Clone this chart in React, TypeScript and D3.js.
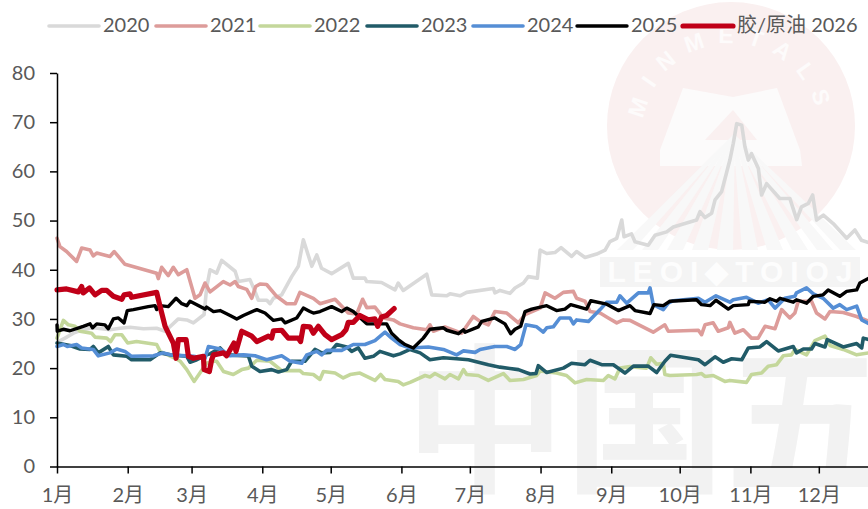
import React, { useEffect, useRef } from "react";
import * as d3 from "d3";

type P = [number, number];

const monthStarts = [0, 31, 59, 90, 120, 151, 181, 212, 243, 273, 304, 334];
const monthLabels = ["1月", "2月", "3月", "4月", "5月", "6月", "7月", "8月", "9月", "10月", "11月", "12月"];
const yTicks = [0, 10, 20, 30, 40, 50, 60, 70, 80];

const s2020: P[] = [[0.6,25.4],[3.5,26.1],[7.2,27.1],[11,27.8],[16,28.2],[23.2,27.8],[27.6,28.1],[32,28.3],[37.9,28],[43.7,28.1],[47.4,27.5],[53.2,30],[56.9,29.8],[59.8,29.2],[64.5,30.9],[65.6,36.3],[67.1,40],[70,39.3],[72.2,41.9],[78.1,39.7],[79.5,37.6],[84.6,38],[86.8,35.6],[88.3,33.8],[92,33.8],[93.4,33.1],[94.9,34.2],[98.5,34.9],[102.9,38.6],[105.8,40.7],[108,46.1],[111.7,40.7],[113.9,43],[116,40.3],[120.4,39.2],[127.7,41.3],[129.9,38.3],[135,38.3],[135.8,37.6],[142.3,37.4],[148.2,35.9],[149.6,37.3],[151.8,35.8],[162.1,39.1],[164.3,34.9],[170.9,34.7],[172.3,35.1],[176.7,34.7],[179.6,35.4],[191.3,36.2],[192,35.3],[194.2,35.8],[198.6,35.2],[200.8,36.3],[204.5,37.3],[206.6,38.6],[210.6,38.3],[211.8,44],[214.7,43.3],[218.3,43.5],[221,44.5],[225.6,42.7],[227.8,43.7],[231.5,42.5],[236.6,43.2],[240.3,44],[242.4,45.7],[245.4,46.4],[247.6,50.1],[248.6,46.7],[251.9,47.3],[253.4,45.7],[259.2,45],[262.2,47],[267.3,47.7],[270.2,48.7],[280.4,50.1],[281.9,51.8],[284.1,50.6],[287,51.5],[288.5,54.2],[291.4,55.9],[295,62.3],[296.5,65.7],[298,69.7],[300.2,69.4],[301.6,65],[303.1,62.3],[304.5,63.6],[307.5,60.6],[308.9,55.2],[311.1,57.5],[316.9,54.5],[321.3,54.5],[324.3,50.2],[326.4,52.8],[329.4,53.5],[331.3,55.2],[333,50.1],[336,51.1],[340.3,49.4],[346.2,46.4],[349.8,48.1],[352.7,46],[356,45.5]];

const s2021: P[] = [[0,46.4],[1.3,44.7],[4.2,43.7],[8.6,41.7],[10.8,44.4],[14.5,44],[15.9,42.8],[17.4,43.4],[23.2,42.7],[25.1,43.7],[29.8,41.1],[43.7,39.3],[44.4,38.2],[45.9,40.5],[48.8,38.8],[51,40.5],[53.2,39],[56.9,40],[60.5,34.2],[62.7,34.9],[64.9,37.3],[67.1,35.5],[72.9,37.6],[75.9,36.9],[78.1,37.6],[79.5,36.6],[83.2,36],[85.4,34.2],[87.1,36.6],[89,37.1],[91.9,37],[96.3,34.6],[100.7,33.1],[104.4,33.1],[106.5,35.4],[112.4,34.2],[115.3,33.1],[121.9,34],[127.7,31.2],[131.4,31],[134,34],[135.8,32.3],[139.4,32.4],[143.1,30.2],[147.5,29.8],[150.4,29],[156.2,28.2],[162.1,27.8],[163.5,28.8],[165,27.5],[170.1,28.4],[177.4,27.1],[182.5,30.5],[185.5,29.5],[189.1,28.8],[192,31.5],[197.2,31.2],[202.3,29.2],[205.2,30.9],[211.8,32.2],[214,35.3],[218.3,34.2],[222,35.4],[226.4,35.6],[227.8,34.2],[231.5,33.6],[233.7,31.5],[238.1,31.2],[241.7,30.2],[245.4,29.2],[248.3,29.8],[251.2,29.7],[261.4,27.3],[266.5,28.8],[268,27.5],[281.2,27.7],[282.6,26.8],[284.1,28.8],[287.7,29.2],[289.9,27.5],[294.3,28.2],[295,29.3],[297.2,27.1],[300.9,27.8],[304.5,26.1],[307.4,26.1],[310.4,28.5],[314.8,28],[317.7,31.9],[321.3,30.2],[323.5,31.2],[325,33.6],[330.8,33.6],[333,31.2],[336.7,30],[338.9,31.5],[344.7,31.3],[350.6,30.5],[356,29.5]];

const s2022: P[] = [[0,26.1],[2.8,29.7],[5,28.8],[7.9,28.5],[10.1,27.5],[15.2,27.1],[16.7,26.3],[21.8,26.1],[23.5,25.4],[25.4,26.8],[28.4,26.8],[31,25.1],[34.9,25.4],[43.7,24.8],[45.2,23.4],[51.8,22],[54,21.4],[56.9,19.7],[60.1,17.3],[65.6,21],[68.6,21.4],[70,21.4],[73,19.3],[77.3,18.7],[81,19.7],[83.9,20],[87.6,21.6],[93.4,21.4],[98.5,19.5],[106.5,19.5],[108,18.9],[112.4,18.7],[115.3,17.7],[116.8,19.3],[121.9,19],[125.5,18],[128.5,18.7],[132.8,19],[139.4,17.5],[141.9,18.7],[143.8,17.7],[149.6,17.3],[151.8,16.6],[154.8,17.1],[161.4,18.5],[163.5,18.2],[165.7,18.9],[170.1,17.8],[172.3,18.7],[176,17.8],[178.2,19.7],[179.6,18.7],[184.7,18.5],[189.1,17.5],[195.7,18.9],[198.6,17.5],[204.5,17.7],[210.3,18.5],[211.8,19.4],[219,19],[223.4,18.5],[227.1,17],[232.2,17.7],[239.5,17.5],[241.7,18.5],[244.6,17.8],[246.8,20],[251.2,20.3],[258.5,20],[260.3,22.1],[262.9,20.8],[265.8,21],[266.5,18.7],[268.7,18.5],[280.4,18.7],[282.6,18.9],[284.1,18.3],[287.7,18.5],[292.8,17.3],[295,17.5],[302.3,17.1],[304.5,18.7],[308.9,19],[311.8,20.4],[315.5,20.7],[318.4,22.5],[322,22.7],[323.5,23.8],[328.6,22.7],[332.3,25.6],[336.7,26.5],[338.9,24.6],[344.7,23.8],[350.6,22.7],[356,23.1]];

const s2023: P[] = [[0,25.1],[5.7,24.6],[10.1,23.9],[14.5,23.8],[15.9,24.4],[18.1,23.1],[22.5,24.4],[24.7,22.7],[30.6,22.4],[32.7,21.7],[40.8,21.7],[45.2,23.1],[49.6,22.7],[56.9,22.4],[58.3,21.2],[61.3,21.7],[65.6,22.7],[67.1,22.9],[71.5,24.1],[74.4,22.7],[83.9,22.5],[85.4,20.4],[89,19.3],[94.1,19.7],[97.1,19.2],[100.7,19.7],[102.9,21.4],[108.7,21.4],[113.1,23.8],[116,23.1],[119.7,23.2],[122.6,24.8],[127,24.3],[129.2,23.4],[132.1,24.1],[135,22],[138.7,22.4],[141.6,23.4],[147.5,22.5],[150.4,22.9],[154.8,23.8],[159.2,23.1],[163.5,21.7],[169.4,22.1],[175.2,21.9],[180.4,21.7],[189.1,20.7],[194.2,20.2],[202.3,19.7],[207.4,18.8],[210,18.9],[211,20.5],[214.7,19.1],[222,20],[225.6,21],[231.5,20.7],[233.7,21.6],[238.8,20.7],[243.9,20.7],[249,19],[252.7,20.4],[259.2,20.4],[262.9,19.1],[266.5,21.4],[269,22.6],[281.2,21.7],[284.1,20.7],[288.5,22.3],[292.1,21.2],[295.8,21.9],[300.2,21.7],[303.1,24.1],[308.2,24.3],[311.1,25.4],[316.2,23.5],[322.8,24.4],[324.2,23.1],[327.2,23.9],[330.8,23.9],[332.3,25],[336.7,24.3],[337.7,25.8],[344.7,24.3],[350.6,25],[352.8,24.1],[353.5,26.1],[356,25.8]];

const s2024: P[] = [[0,24.4],[2.8,24.8],[4.5,24.4],[8.6,24.8],[10.8,24.1],[15.9,23.8],[18.1,22.5],[23.2,23.1],[26.2,23.9],[29.8,23.4],[32.7,22.4],[42.3,22.5],[46.6,23.1],[49.6,22.7],[59.8,22.4],[64.9,22],[66.4,24.4],[71.5,23.9],[75.9,22.5],[81.7,22.7],[86.8,22.5],[91.9,21.7],[98.5,22.5],[102.2,21.4],[107.3,21],[109.5,22.7],[113.9,23.4],[116,22.7],[118.2,23.6],[124.8,23.6],[129.9,24.8],[135,24.8],[139.4,25.6],[143.8,27.3],[146.7,26.1],[150.4,24.8],[154.8,24.1],[162.8,24.3],[169.4,23.8],[175.2,22.7],[178.2,23.5],[183.3,23.2],[185.5,23.8],[192,24.4],[197.2,24.4],[200.8,23.8],[203.3,24.8],[205.6,28.8],[210.3,28.4],[213.2,27.3],[214.7,28.2],[217.6,28.4],[220.5,30.2],[224.9,30.2],[226.4,29],[227.8,29.8],[233,29.5],[238.1,31.9],[241,33.4],[245.4,33.4],[246.8,34.7],[249.8,33.2],[254.9,35.3],[259.2,35.3],[260,36.3],[261.4,32.9],[265.8,31.9],[268,33.2],[270.2,33.7],[281.2,34.2],[284.1,33.4],[288.9,34.7],[295,33.4],[296.5,33.9],[302.3,34.4],[307.4,33.2],[311.8,33.9],[314.8,32.2],[319.1,34.2],[323.5,34.6],[324.2,35.3],[328.6,36.3],[331.6,35.1],[335.9,34.2],[340.3,32.2],[343.2,32.9],[346.2,31.9],[350.6,32.6],[352.8,29.8],[356,29]];

const s2025: P[] = [[0,28.8],[0.1,27.5],[2.8,27.9],[5.7,27.6],[11.5,28.5],[14.5,29],[15.6,28.2],[17.4,29],[21,28.8],[22.5,28],[24.7,30],[26.9,30.2],[29.4,29.2],[30.8,31.7],[33.5,31.9],[40,32.5],[43,32.7],[43.7,31.9],[45.2,32.7],[48.8,32.5],[52.2,34.2],[54.7,33.1],[56.9,32.7],[58.3,33.6],[61.3,32.9],[64.9,32],[65.6,32.4],[68.6,31.5],[71.5,31.7],[75.9,30.7],[78.8,30],[81.7,30.7],[87.6,31.9],[91.2,31.2],[94.9,29.7],[98.5,30],[100,29.2],[105.1,30.2],[108,32.2],[110.9,31.5],[112.4,31.2],[115.3,31.5],[120.4,32.5],[124.8,31.5],[127,32.2],[129.9,31.5],[135.8,29],[140.9,29],[144.5,29],[146.7,27.1],[149.6,25.8],[152.6,24.8],[156.2,24.1],[160.6,26.1],[163.5,27.9],[169.4,28.2],[170.9,27.7],[176,27],[178.2,27.8],[178.9,27.3],[184.7,28.4],[186.2,29.5],[192,30.2],[196.4,29],[198.9,27],[200.8,27.9],[203.3,28.5],[205.2,31.5],[208.1,32],[214.7,32.7],[219,31.7],[222.7,32],[225.2,32.9],[232.2,32],[234,33.7],[241,33],[246.1,31.7],[251.2,32.7],[253.4,31.7],[260,31.1],[261.7,32.9],[265.8,32.7],[268.7,33.6],[280.4,33.9],[282.6,32.9],[286.3,32.7],[288.9,33.8],[294.3,32],[296.5,32.7],[303.1,32.9],[303.5,33.6],[310.4,33.4],[312.6,34.1],[315.5,33.6],[317,34.2],[322.8,33.4],[324.2,33.9],[328.6,33.2],[331.6,34.6],[335.9,34.9],[338.1,35.9],[343.2,34.6],[346.2,35.6],[350.6,35.9],[352,37.3],[356,38.3]];

const s2026: P[] = [[0,35.9],[4.2,36.1],[9.4,35.5],[10.8,36.6],[11.5,35.3],[14.2,36.3],[16.7,34.9],[19.6,35.8],[21.8,35.8],[24.7,34.6],[28.4,34],[29.4,34.9],[32,35.1],[32.7,34.4],[43.7,35.4],[45.2,32.5],[47.4,28.5],[51,25.1],[52.2,22],[53.2,25.8],[56.6,25.8],[57.6,22.4],[59.8,22],[64.2,22.4],[64.5,19.7],[66.8,19.3],[67.8,21.7],[68.6,22.7],[73,23.1],[74.4,22.5],[77.6,25.1],[78.5,23.4],[81,27.5],[85.4,26.5],[87.6,25.4],[92.7,26.5],[94.1,26.1],[94.9,27.6],[98.5,27.7],[101.4,26.1],[105.8,26.1],[106.8,25.4],[108,28.5],[110.9,28.4],[112.4,27.1],[114.6,28.5],[117.5,26.8],[120.4,25.8],[124.8,26.8],[126.7,27.8],[127.7,29.3],[129.9,29.3],[132.8,30.7],[136.5,29.8],[139.4,30],[140.6,28.5],[142.3,30.4],[144.5,30.7],[147.8,32.1]];

const series = [
  { name: "2020", data: s2020, color: "#D9D9D9", width: 3.6 },
  { name: "2021", data: s2021, color: "#DD9C9A", width: 3.6 },
  { name: "2022", data: s2022, color: "#C4D79B", width: 3.6 },
  { name: "2023", data: s2023, color: "#215B68", width: 3.6 },
  { name: "2024", data: s2024, color: "#558ED5", width: 3.6 },
  { name: "2025", data: s2025, color: "#000000", width: 3.4 },
  { name: "胶/原油 2026", data: s2026, color: "#C00018", width: 5.2 },
];
const legendLineStart = [49, 156, 260, 367, 473, 577, 683];
const rayFeet = [625, 650, 675, 700, 725, 750, 775, 800, 825, 848];

const W = 868, H = 509;
const FONT = "Lato, 'Noto Sans CJK SC', sans-serif";
const TEXT = "#595959";
const FS = 20;

export default function App() {
  const xAxisRef = useRef<SVGGElement>(null);
  const yAxisRef = useRef<SVGGElement>(null);
  const x = d3.scaleLinear().domain([0, 356]).range([57, 869]);
  const y = d3.scaleLinear().domain([0, 80]).range([466.5, 73]);
  const line = d3.line<P>().x((d) => x(d[0])).y((d) => y(d[1])).curve(d3.curveLinear);

  useEffect(() => {
    const style = (g: d3.Selection<SVGGElement, unknown, null, undefined>) => {
      g.selectAll("path.domain").attr("stroke", "#000").attr("stroke-width", 1.5);
      g.selectAll("line").attr("stroke", "#000").attr("stroke-width", 1.5);
      g.selectAll("text").attr("fill", TEXT).attr("font-size", FS).attr("font-family", FONT);
    };
    const xg = d3.select(xAxisRef.current!);
    xg.call(
      d3.axisBottom(x).tickValues(monthStarts).tickSize(7).tickSizeOuter(0)
        .tickFormat((_, i) => monthLabels[i]) as any
    );
    style(xg);
    xg.selectAll("text").attr("y", 21).attr("dy", "0.71em");
    const yg = d3.select(yAxisRef.current!);
    yg.call(d3.axisLeft(y).tickValues(yTicks).tickSize(7).tickSizeOuter(0) as any);
    style(yg);
    yg.selectAll("text").attr("x", -22);
  }, []);

  return (
    <svg width={W} height={H} viewBox={`0 0 ${W} ${H}`}
      style={{ position: "absolute", left: 0, top: 0, display: "block", background: "#fff" }}>
      <g>
        <circle cx={731} cy={126} r={124} fill="#FAF0F0" />
        <path id="wmArc" d="M 645 150 A 88 88 0 1 1 817 150" fill="none" />
        <text fontFamily="'Liberation Sans', sans-serif" fontWeight="bold" fontSize={23} fill="#FDFBFB" letterSpacing={13} textAnchor="middle">
          <textPath href="#wmArc" startOffset="50%">MINMETALS</textPath>
        </text>
        <polygon points="683,88 733,97 777,88 800,150 802,166 660,166 660,150" fill="#FCFBFB" />
        <polygon points="705,140 733,110 757,140" fill="#FAF0F0" />
        {rayFeet.map((f) => (
          <polygon key={f} points={`733,135 735,135 ${f + 8},250 ${f - 8},250`} fill="#F8F8F8" />
        ))}
        <rect x={600} y={257} width={260} height={30} fill="#F4F4F4" />
        <text x={730} y={282} textAnchor="middle" fontFamily="'Liberation Sans', sans-serif" fontWeight="bold"
          fontSize={30} fill="#FDFDFD" textLength={245}>LEOI◆TOIOJ</text>
        <text x={405} y={480} fontFamily="'Noto Sans CJK SC', sans-serif" fontWeight="bold" fontSize={160} fill="#F2F2F2">中国五</text>
      </g>

      {series.map((s) => (
        <path key={s.name} d={line(s.data) ?? ""} fill="none" stroke={s.color}
          strokeWidth={s.width} strokeLinejoin="round" strokeLinecap="round" />
      ))}

      <g ref={xAxisRef} transform={`translate(0,${y(0)})`} />
      <g ref={yAxisRef} transform={`translate(${x(0)},0)`} />

      {series.map((s, i) => (
        <g key={s.name}>
          <line x1={legendLineStart[i]} x2={legendLineStart[i] + 50} y1={26} y2={26} stroke={s.color}
            strokeWidth={s.width} strokeLinecap="round" />
          <text x={legendLineStart[i] + 54} y={32} fontFamily={FONT} fontSize={FS} fill={TEXT}>{s.name}</text>
        </g>
      ))}
    </svg>
  );
}
